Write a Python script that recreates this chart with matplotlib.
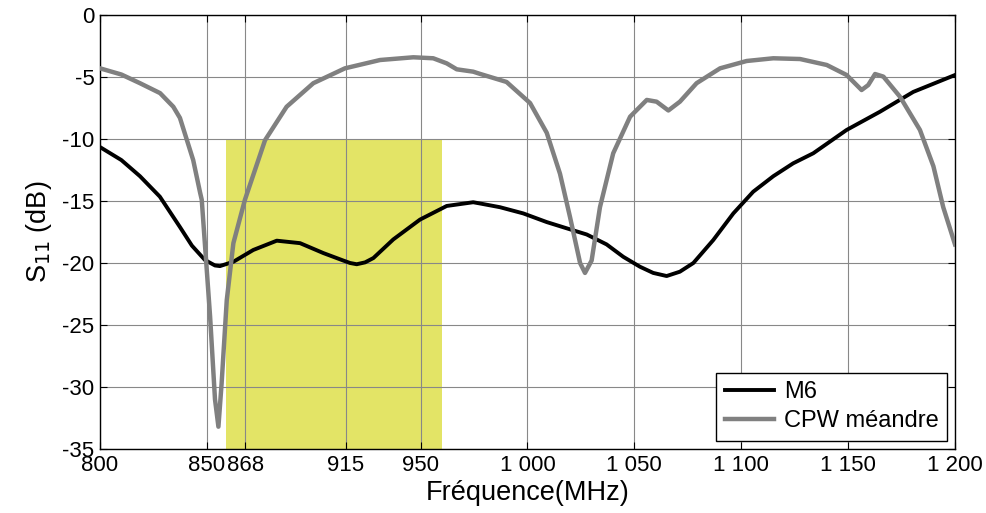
import matplotlib.pyplot as plt
from matplotlib.patches import Rectangle

plt.rcParams['font.family'] = ['Liberation Sans', 'DejaVu Sans']
plt.rcParams['axes.unicode_minus'] = False

# M6 curve (frequency in MHz, S11 in dB)
m6_f = [800, 810, 818.7, 828, 837.4, 843, 849.1, 853.8, 856.1, 862.4, 871.7, 882.7,
        893.6, 904.5, 913.8, 917, 920.1, 924, 927.9, 937.2, 949.7, 962.2, 974.6,
        977.8, 987.1, 998, 1009, 1018.3, 1027.7, 1037, 1044.8, 1052.6, 1058.8,
        1065.1, 1071.3, 1077.6, 1086.9, 1096.3, 1105.6, 1115, 1124.3, 1133.7,
        1149.3, 1164.9, 1180.5, 1200]
m6_s11 = [-10.65, -11.7, -13.0, -14.65, -17.1, -18.6, -19.76, -20.2, -20.25, -19.9,
          -18.95, -18.2, -18.4, -19.2, -19.8, -20.0, -20.1, -19.95, -19.6, -18.1,
          -16.5, -15.4, -15.1, -15.2, -15.5, -16.0, -16.7, -17.2, -17.7, -18.5,
          -19.5, -20.3, -20.8, -21.05, -20.7, -20.0, -18.15, -16.0, -14.25, -13.0,
          -11.96, -11.15, -9.27, -7.8, -6.2, -4.84]

# CPW meander curve
cpw_f = [800, 810, 818.7, 828.1, 834.3, 837.4, 843.6, 846.8, 847.6, 851.5, 853.8,
         855.4, 856.9, 859.3, 862.4, 867.8, 877.2, 887.3, 899.8, 914.6, 931, 946.6,
         955.9, 962.2, 966.9, 974.6, 977.8, 990.2, 1001.2, 1009, 1015.2, 1019.9,
         1024.6, 1026.9, 1030, 1033.9, 1040.1, 1048, 1055.8, 1060.4, 1065.9, 1071.3,
         1079.1, 1090.1, 1102.5, 1115, 1127.5, 1140, 1149.3, 1156.3, 1159.4, 1162.6,
         1166.5, 1174.3, 1183.6, 1189.9, 1194.5, 1200]
cpw_s11 = [-4.3, -4.8, -5.5, -6.3, -7.4, -8.3, -11.7, -14.3, -14.9, -24.3, -31.0,
           -33.2, -29.7, -23.0, -18.4, -14.9, -10.1, -7.4, -5.5, -4.3, -3.63, -3.41,
           -3.49, -3.9, -4.38, -4.57, -4.75, -5.4, -7.1, -9.5, -12.8, -16.3, -20.0,
           -20.8, -19.8, -15.5, -11.15, -8.2, -6.85, -6.99, -7.7, -6.99, -5.5, -4.3,
           -3.71, -3.49, -3.55, -4.03, -4.84, -6.05, -5.65, -4.76, -4.97, -6.6, -9.27,
           -12.2, -15.5, -18.5]

# highlighted band
band_f = (859, 960)
band_top = -10

xticks = [800, 850, 868, 915, 950, 1000, 1050, 1100, 1150, 1200]
xtick_labels = ['800', '850', '868', '915', '950', '1 000', '1 050', '1 100', '1 150', '1 200']
yticks = [0, -5, -10, -15, -20, -25, -30, -35]

fig = plt.figure(figsize=(9.87, 5.13), dpi=100)
ax = fig.add_axes([100 / 987, 1 - 449 / 513, 855 / 987, 434 / 513])

ax.add_patch(Rectangle((band_f[0], -35), band_f[1] - band_f[0], band_top + 35,
                       facecolor='#e3e466', edgecolor='none', zorder=0))

ax.plot(m6_f, m6_s11, color='black', lw=2.8, label='M6', zorder=3)
ax.plot(cpw_f, cpw_s11, color='#808080', lw=3.2, label='CPW méandre', zorder=3)

ax.set_xlim(800, 1200)
ax.set_ylim(-35, 0)
ax.set_xticks(xticks)
ax.set_xticklabels(xtick_labels)
ax.set_yticks(yticks)
ax.grid(True, color='#888888', lw=0.8, zorder=1)
ax.set_axisbelow(True)
ax.tick_params(direction='in', top=True, right=True, labelsize=16, length=5, pad=4)
for s in ax.spines.values():
    s.set_linewidth(1.0)

ax.set_xlabel('Fréquence(MHz)', fontsize=19.5, labelpad=3)
ax.set_ylabel('S$_{11}$ (dB)', fontsize=19.5, labelpad=6)

leg = ax.legend(loc='lower right', fontsize=17, frameon=True, fancybox=False,
                edgecolor='black', framealpha=1, borderaxespad=0.35,
                handlelength=2.1, handletextpad=0.4, borderpad=0.35, labelspacing=0.3)
leg.get_frame().set_linewidth(1.0)

fig.savefig('out.png', dpi=100)
